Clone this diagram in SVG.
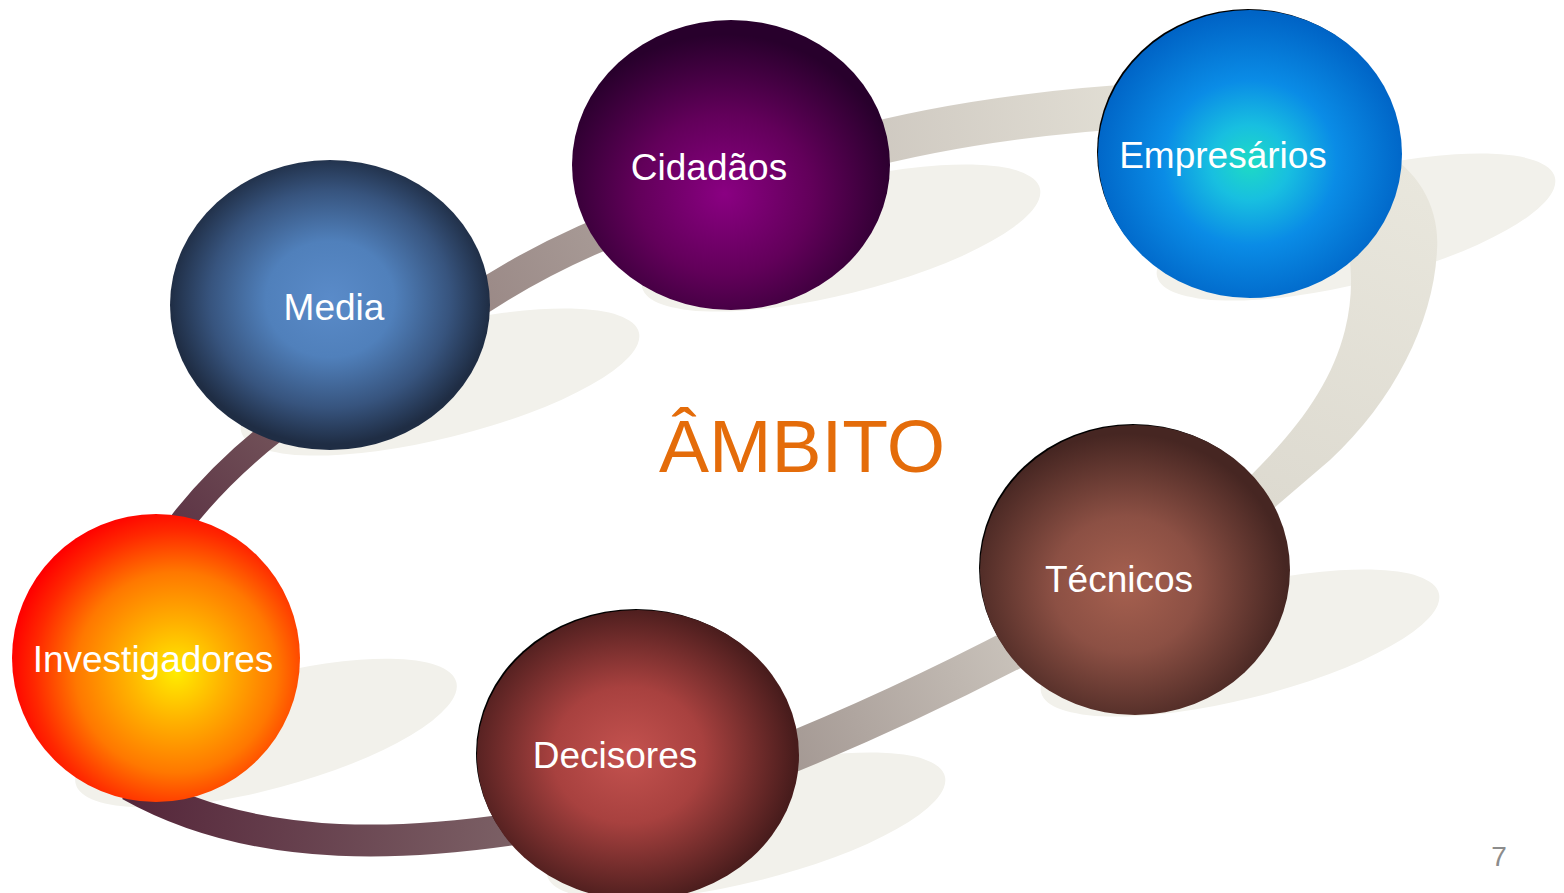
<svg xmlns="http://www.w3.org/2000/svg" width="1564" height="893" viewBox="0 0 1564 893">
  <defs>
    <style>
      .label { font-family: "Liberation Sans", Arial, sans-serif; font-size: 37px; fill: #ffffff; text-anchor: middle; }
      .title { font-family: "Liberation Sans", Arial, sans-serif; font-size: 75px; fill: #e46c0a; text-anchor: middle; }
      .pnum { font-family: "Liberation Sans", Arial, sans-serif; font-size: 28px; fill: #8c8c8c; text-anchor: middle; }
      .shadow { fill: #f2f1eb; }
      .rim { fill: #000000; }
      .band { fill: none; stroke-linecap: butt; }
    </style>
    <radialGradient id="gMedia" cx="0.5" cy="0.48" r="0.5">
      <stop offset="0" stop-color="#5a8bc9"/>
      <stop offset="0.4" stop-color="#5080bb"/>
      <stop offset="0.75" stop-color="#37547e"/>
      <stop offset="1" stop-color="#1f2d44"/>
    </radialGradient>
    <radialGradient id="gCid" cx="0.48" cy="0.6" r="0.55">
      <stop offset="0" stop-color="#8a0082"/>
      <stop offset="0.5" stop-color="#62005a"/>
      <stop offset="1" stop-color="#28002c"/>
    </radialGradient>
    <radialGradient id="gEmp" cx="0.5" cy="0.53" r="0.52">
      <stop offset="0" stop-color="#1edbc4"/>
      <stop offset="0.25" stop-color="#18bfe0"/>
      <stop offset="0.55" stop-color="#0a8ce6"/>
      <stop offset="1" stop-color="#0064c6"/>
    </radialGradient>
    <radialGradient id="gTec" cx="0.47" cy="0.55" r="0.52">
      <stop offset="0" stop-color="#a6604f"/>
      <stop offset="0.45" stop-color="#8c5044"/>
      <stop offset="1" stop-color="#462622"/>
    </radialGradient>
    <radialGradient id="gDec" cx="0.47" cy="0.5" r="0.52">
      <stop offset="0" stop-color="#c4524f"/>
      <stop offset="0.45" stop-color="#a8413f"/>
      <stop offset="1" stop-color="#481c1c"/>
    </radialGradient>
    <radialGradient id="gInv" cx="0.57" cy="0.55" r="0.58">
      <stop offset="0" stop-color="#ffec00"/>
      <stop offset="0.3" stop-color="#ffb000"/>
      <stop offset="0.6" stop-color="#ff7800"/>
      <stop offset="0.85" stop-color="#ff2800"/>
      <stop offset="1" stop-color="#ff0000"/>
    </radialGradient>
    <linearGradient id="b1" gradientUnits="userSpaceOnUse" x1="165" y1="545" x2="300" y2="410">
      <stop offset="0" stop-color="#5a3042"/>
      <stop offset="1" stop-color="#76585d"/>
    </linearGradient>
    <linearGradient id="b2" gradientUnits="userSpaceOnUse" x1="430" y1="335" x2="650" y2="215">
      <stop offset="0" stop-color="#958280"/>
      <stop offset="1" stop-color="#aca09b"/>
    </linearGradient>
    <linearGradient id="b3" gradientUnits="userSpaceOnUse" x1="850" y1="150" x2="1150" y2="105">
      <stop offset="0" stop-color="#cdc7bf"/>
      <stop offset="1" stop-color="#e3e0d6"/>
    </linearGradient>
    <linearGradient id="b4" gradientUnits="userSpaceOnUse" x1="1400" y1="160" x2="1260" y2="500">
      <stop offset="0" stop-color="#e9e7dd"/>
      <stop offset="1" stop-color="#dddad0"/>
    </linearGradient>
    <linearGradient id="b5" gradientUnits="userSpaceOnUse" x1="1050" y1="630" x2="760" y2="765">
      <stop offset="0" stop-color="#cec8c0"/>
      <stop offset="1" stop-color="#a0948f"/>
    </linearGradient>
    <linearGradient id="b6" gradientUnits="userSpaceOnUse" x1="540" y1="825" x2="130" y2="785">
      <stop offset="0" stop-color="#7e6468"/>
      <stop offset="1" stop-color="#55263a"/>
    </linearGradient>
  </defs>

  <rect width="1564" height="893" fill="#ffffff"/>

  <g id="shadows">
    <ellipse class="shadow" cx="266" cy="733" rx="197" ry="56" transform="rotate(-15 266 733)"/>
    <ellipse class="shadow" cx="440" cy="382" rx="205" ry="56" transform="rotate(-14 440 382)"/>
    <ellipse class="shadow" cx="841" cy="238" rx="205" ry="56" transform="rotate(-14 841 238)"/>
    <ellipse class="shadow" cx="1356" cy="227" rx="205" ry="56" transform="rotate(-14 1356 227)"/>
    <ellipse class="shadow" cx="1240" cy="643" rx="205" ry="56" transform="rotate(-14 1240 643)"/>
    <ellipse class="shadow" cx="746" cy="826" rx="205" ry="56" transform="rotate(-14 746 826)"/>
  </g>

  <g id="connectors">
    <path class="band" stroke="url(#b1)" stroke-width="25" d="M165,545 Q218,468 305,408"/>
    <path class="band" stroke="url(#b2)" stroke-width="33" d="M430,335 Q520,262 650,215"/>
    <path class="band" stroke="url(#b3)" stroke-width="44" d="M850,150 Q980,115 1150,105"/>
    <path fill="url(#b4)" d="M1380,150 C1420,170 1440,210 1437,250 C1434,320 1395,400 1330,460 L1260,520 L1225,500 C1290,440 1330,390 1345,330 C1355,290 1352,250 1340,220 Z"/>
    <path class="band" stroke="url(#b5)" stroke-width="40" d="M1050,630 Q900,710 760,765"/>
    <path class="band" stroke="url(#b6)" stroke-width="32" d="M540,825 C420,845 260,858 130,785"/>
  </g>

  <g id="node-media">
    <ellipse cx="330" cy="305" rx="160" ry="145" fill="url(#gMedia)"/>
    <text class="label" x="334" y="320">Media</text>
  </g>
  <g id="node-cidadaos">
    <ellipse cx="731" cy="165" rx="159" ry="145" fill="url(#gCid)"/>
    <text class="label" x="709" y="180">Cidadãos</text>
  </g>
  <g id="node-empresarios">
    <ellipse class="rim" cx="1248" cy="152" rx="151" ry="143"/>
    <ellipse cx="1250" cy="154" rx="152" ry="144" fill="url(#gEmp)"/>
    <text class="label" x="1223" y="168">Empresários</text>
  </g>
  <g id="node-tecnicos">
    <ellipse class="rim" cx="1133" cy="568" rx="154" ry="144"/>
    <ellipse cx="1135" cy="570" rx="155" ry="145" fill="url(#gTec)"/>
    <text class="label" x="1119" y="592">Técnicos</text>
  </g>
  <g id="node-decisores">
    <ellipse class="rim" cx="636" cy="753" rx="160" ry="144"/>
    <ellipse cx="638" cy="755" rx="161" ry="145" fill="url(#gDec)"/>
    <text class="label" x="615" y="768">Decisores</text>
  </g>
  <g id="node-investigadores">
    <ellipse cx="156" cy="658" rx="144" ry="144" fill="url(#gInv)"/>
    <text class="label" x="153" y="672">Investigadores</text>
  </g>

  <text class="title" x="802" y="472">ÂMBITO</text>
  <text class="pnum" x="1499" y="866">7</text>
</svg>
